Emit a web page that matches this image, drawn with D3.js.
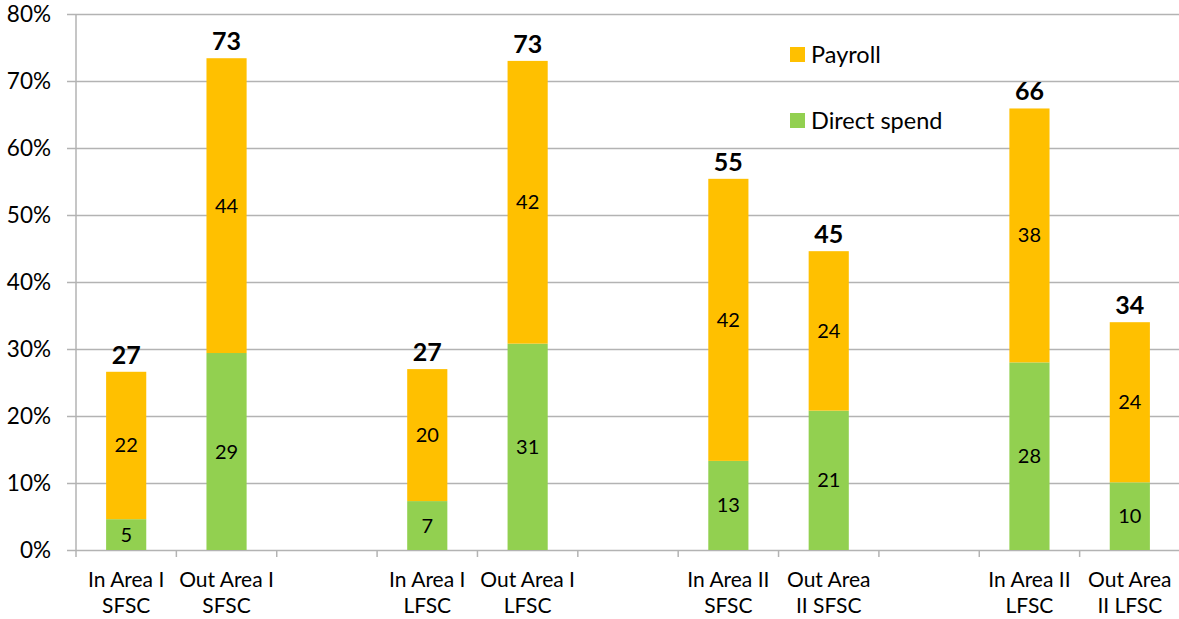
<!DOCTYPE html>
<html lang="en">

<head>
    <meta charset="utf-8" />
    <script src="https://d3js.org/d3.v7.min.js"></script>
    <style type="text/css">
        body {
            margin: 0;
            background: #fff;
        }

        svg text {
            font-family: 'Lato', 'Open Sans', sans-serif;
            fill: #000;
        }

        .grid line {
            stroke: #b3b3b3;
            stroke-width: 1.5px;
        }

        .grid path {
            display: none;
        }
    </style>
</head>

<body>
    <div class="svg-box"></div>
    <script type="text/javascript">
        // slots along the x axis, null = empty gap between the groups
        var categories = [
            ['In Area I', 'SFSC'], ['Out Area I', 'SFSC'], null,
            ['In Area I', 'LFSC'], ['Out Area I', 'LFSC'], null,
            ['In Area II', 'SFSC'], ['Out Area', 'II SFSC'], null,
            ['In Area II', 'LFSC'], ['Out Area', 'II LFSC']
        ];
        var directSpend = [4.6, 29.4, null, 7.3, 30.8, null, 13.3, 20.8, null, 28.0, 10.1];
        var payroll = [22.0, 44.0, null, 19.7, 42.2, null, 42.1, 23.8, null, 37.9, 23.9];
        var yTicks = [0, 10, 20, 30, 40, 50, 60, 70, 80];
        var seriesNames = ['Payroll', 'Direct spend'];

        var width = 1179;
        var height = 619;
        var margins = {
            top: 14,
            left: 76,
            right: -1,
            bottom: 69
        }
        var plotW = width - margins.left - margins.right;
        var plotH = height - margins.top - margins.bottom;

        var colors = { 'Payroll': '#FFC000', 'Direct spend': '#92D050' };

        var svg = d3.select('div.svg-box')
            .append('svg')
            .attr('width', width)
            .attr('height', height)
            .append('g')
            .attr('transform', 'translate(' + margins.left + ',' + margins.top + ')');

        var x = d3.scaleBand()
            .domain(d3.range(categories.length))
            .range([0, plotW])
            .paddingInner(0.6)
            .paddingOuter(0.3);

        var y = d3.scaleLinear()
            .domain([0, 80])
            .range([plotH, 0]);

        // horizontal gridlines
        svg.append('g')
            .attr('class', 'grid')
            .call(d3.axisLeft(y).tickValues(yTicks).tickSize(-plotW).tickFormat(''));

        // y axis with outer ticks
        var yAxis = svg.append('g')
            .attr('class', 'grid')
            .call(d3.axisLeft(y).tickValues(yTicks).tickSize(9).tickPadding(16)
                .tickFormat(function (d) { return d + '%' }));
        yAxis.selectAll('text')
            .style('font-size', '22.5px')
            .attr('dy', '0.35em');

        svg.append('line')
            .attr('x1', 0).attr('x2', 0)
            .attr('y1', 0).attr('y2', plotH)
            .attr('stroke', '#b3b3b3')
            .attr('stroke-width', 1.5);

        // x ticks between slots
        var step = x.step();
        svg.append('g')
            .selectAll('line')
            .data(d3.range(categories.length + 1))
            .enter()
            .append('line')
            .attr('x1', function (i) { return i * step })
            .attr('x2', function (i) { return i * step })
            .attr('y1', plotH)
            .attr('y2', plotH + 7)
            .attr('stroke', '#b3b3b3')
            .attr('stroke-width', 1.5);

        var rows = [];
        categories.forEach(function (c, i) {
            if (c == null) return;
            rows.push({ i: i, lines: c, direct: directSpend[i], payroll: payroll[i] });
        });

        var bars = svg.append('g');

        // direct spend at the bottom
        bars.selectAll('rect.direct')
            .data(rows)
            .enter()
            .append('rect')
            .attr('class', 'direct')
            .attr('x', function (d) { return x(d.i) })
            .attr('width', x.bandwidth())
            .attr('y', function (d) { return y(d.direct) })
            .attr('height', function (d) { return plotH - y(d.direct) })
            .attr('fill', colors['Direct spend']);

        bars.selectAll('rect.payroll')
            .data(rows)
            .enter()
            .append('rect')
            .attr('class', 'payroll')
            .attr('x', function (d) { return x(d.i) })
            .attr('width', x.bandwidth())
            .attr('y', function (d) { return y(d.direct + d.payroll) })
            .attr('height', function (d) { return y(d.direct) - y(d.direct + d.payroll) })
            .attr('fill', colors['Payroll']);

        // segment labels
        bars.selectAll('text.dlab')
            .data(rows)
            .enter()
            .append('text')
            .attr('class', 'dlab')
            .attr('x', function (d) { return x(d.i) + x.bandwidth() / 2 })
            .attr('y', function (d) { return y(d.direct / 2) })
            .attr('dy', '0.35em')
            .attr('text-anchor', 'middle')
            .style('font-size', '20px')
            .text(function (d) { return Math.round(d.direct) });

        bars.selectAll('text.plab')
            .data(rows)
            .enter()
            .append('text')
            .attr('class', 'plab')
            .attr('x', function (d) { return x(d.i) + x.bandwidth() / 2 })
            .attr('y', function (d) { return y(d.direct + d.payroll / 2) })
            .attr('dy', '0.35em')
            .attr('text-anchor', 'middle')
            .style('font-size', '20px')
            .text(function (d) { return Math.round(d.payroll) });

        // totals on top
        bars.selectAll('text.tlab')
            .data(rows)
            .enter()
            .append('text')
            .attr('class', 'tlab')
            .attr('x', function (d) { return x(d.i) + x.bandwidth() / 2 })
            .attr('y', function (d) { return y(d.direct + d.payroll) - 8 })
            .attr('text-anchor', 'middle')
            .style('font-size', '25px')
            .style('font-weight', 'bold')
            .text(function (d) { return Math.round(d.direct + d.payroll) });

        // category labels, two lines each
        var xl = svg.append('g')
            .selectAll('text')
            .data(rows)
            .enter()
            .append('text')
            .attr('text-anchor', 'middle')
            .style('font-size', '21px');
        xl.append('tspan')
            .attr('x', function (d) { return x(d.i) + x.bandwidth() / 2 })
            .attr('y', plotH + 37)
            .text(function (d) { return d.lines[0] });
        xl.append('tspan')
            .attr('x', function (d) { return x(d.i) + x.bandwidth() / 2 })
            .attr('y', plotH + 63)
            .text(function (d) { return d.lines[1] });

        // legend
        var legend = svg.append('g')
            .selectAll('g')
            .data(seriesNames)
            .enter()
            .append('g')
            .attr('transform', function (d, i) { return 'translate(714,' + (33 + i * 66) + ')' });
        legend.append('rect')
            .attr('width', 15)
            .attr('height', 15)
            .attr('fill', function (d) { return colors[d] });
        legend.append('text')
            .attr('x', 21)
            .attr('y', 8)
            .attr('dy', '0.35em')
            .style('font-size', '23.5px')
            .text(function (d) { return d });
    </script>
</body>

</html>
